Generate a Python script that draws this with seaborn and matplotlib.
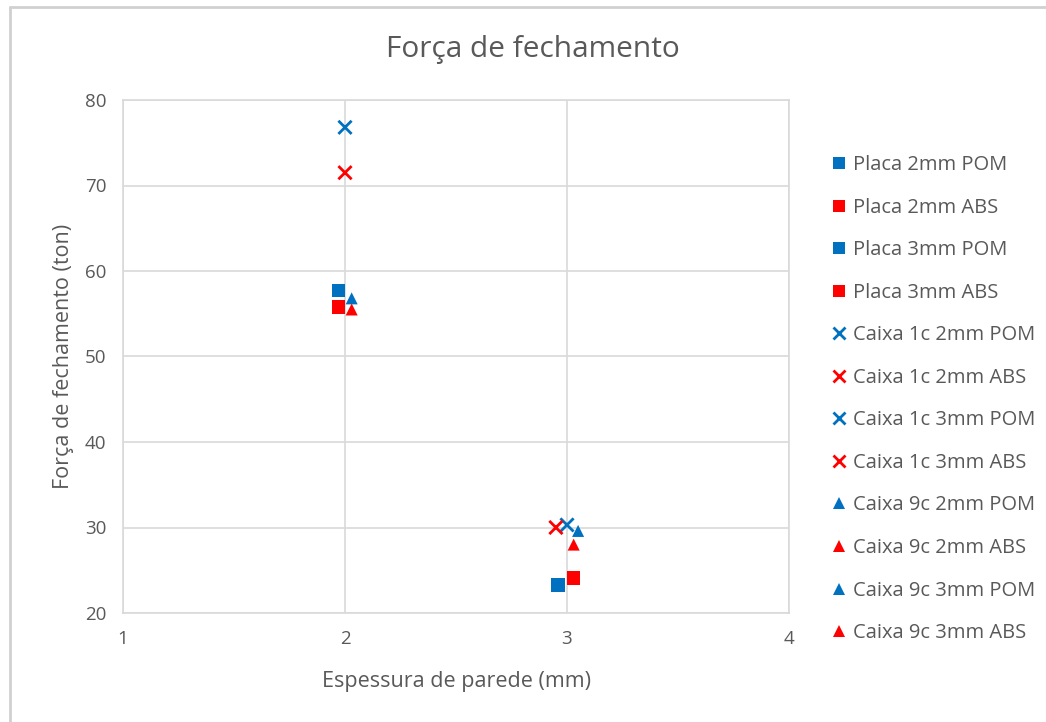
import matplotlib
matplotlib.use("Agg")
import matplotlib.pyplot as plt
from matplotlib.lines import Line2D
import pandas as pd
import seaborn as sns

# Series definitions
series = [
    "Placa 2mm POM", "Placa 2mm ABS", "Placa 3mm POM", "Placa 3mm ABS",
    "Caixa 1c 2mm POM", "Caixa 1c 2mm ABS", "Caixa 1c 3mm POM", "Caixa 1c 3mm ABS",
    "Caixa 9c 2mm POM", "Caixa 9c 2mm ABS", "Caixa 9c 3mm POM", "Caixa 9c 3mm ABS",
]
espessura = [1.97, 1.97, 2.96, 3.03, 2.00, 2.00, 3.00, 2.95, 2.03, 2.03, 3.05, 3.03]
forca = [57.7, 55.8, 23.3, 24.1, 76.8, 71.5, 30.3, 30.0, 56.8, 55.5, 29.6, 28.0]

BLUE = "#0070C0"
RED = "#FF0000"
TEXT = "#595959"
GRID = "#D9D9D9"

colors = {s: (BLUE if s.endswith("POM") else RED) for s in series}
shapes = {s: ("s" if s.startswith("Placa") else ("X" if "1c" in s else "^")) for s in series}

df = pd.DataFrame({"serie": series, "x": espessura, "y": forca})

sns.set_theme(style="white")
plt.rcParams["font.family"] = ["Open Sans", "DejaVu Sans"]

fig = plt.figure(figsize=(10.46, 7.22), dpi=100)
ax = fig.add_axes([123 / 1046, 1 - 613 / 722, (789 - 123) / 1046, (613 - 100) / 722])

sizes = {"s": 95, "^": 75}
for kind in ["s", "^"]:
    sub = df[df["serie"].map(shapes) == kind]
    sns.scatterplot(data=sub, x="x", y="y", hue="serie", palette=colors,
                    marker=kind, s=sizes[kind], linewidth=0, ax=ax, legend=False,
                    zorder=3)
sub = df[df["serie"].map(shapes) == "X"]
sns.scatterplot(data=sub, x="x", y="y", hue="serie", palette=colors,
                marker="x", s=90, linewidth=2.0, ax=ax, legend=False, zorder=3)

ax.set_xlim(1, 4)
ax.set_ylim(20, 80)
ax.set_xticks([1, 2, 3, 4])
ax.set_yticks([20, 30, 40, 50, 60, 70, 80])
ax.grid(True, color=GRID, linewidth=1.2)
ax.set_axisbelow(True)
for sp in ax.spines.values():
    sp.set_visible(True)
    sp.set_color(GRID)
    sp.set_linewidth(1.2)
ax.tick_params(axis="both", length=0, labelsize=13.5, labelcolor=TEXT, pad=12)

ax.set_xlabel("Espessura de parede (mm)", fontsize=15.5, color=TEXT, labelpad=17)
ax.set_ylabel("Força de fechamento (ton)", fontsize=15.5, color=TEXT, labelpad=8)
fig.text(533 / 1046, 1 - 50 / 722, "Força de fechamento", ha="center", va="center",
         fontsize=21.5, color=TEXT)

handles = []
for s in series:
    m = shapes[s]
    if m == "X":
        h = Line2D([], [], linestyle="none", marker="x", color=colors[s],
                   markersize=8, markeredgewidth=2)
    elif m == "s":
        h = Line2D([], [], linestyle="none", marker="s", color=colors[s],
                   markersize=9, markeredgewidth=0)
    else:
        h = Line2D([], [], linestyle="none", marker="^", color=colors[s],
                   markersize=8, markeredgewidth=0)
    handles.append(h)

leg = fig.legend(handles, series, loc="upper left",
                 bbox_to_anchor=(831 / 1046, 1 - 155 / 722),
                 frameon=False, fontsize=14.5, labelspacing=1.12,
                 handlelength=0.8, handletextpad=0.3, borderaxespad=0,
                 borderpad=0)
for t in leg.get_texts():
    t.set_color(TEXT)

# outer chart border (top and left edges)
fig.add_artist(Line2D([10 / 1046, 1], [1 - 6.5 / 722] * 2, color="#D0D0D0",
                      linewidth=2, transform=fig.transFigure))
fig.add_artist(Line2D([10 / 1046] * 2, [0, 1 - 6.5 / 722], color="#D0D0D0",
                      linewidth=2, transform=fig.transFigure))

fig.savefig("out.png", dpi=100, facecolor="white")
